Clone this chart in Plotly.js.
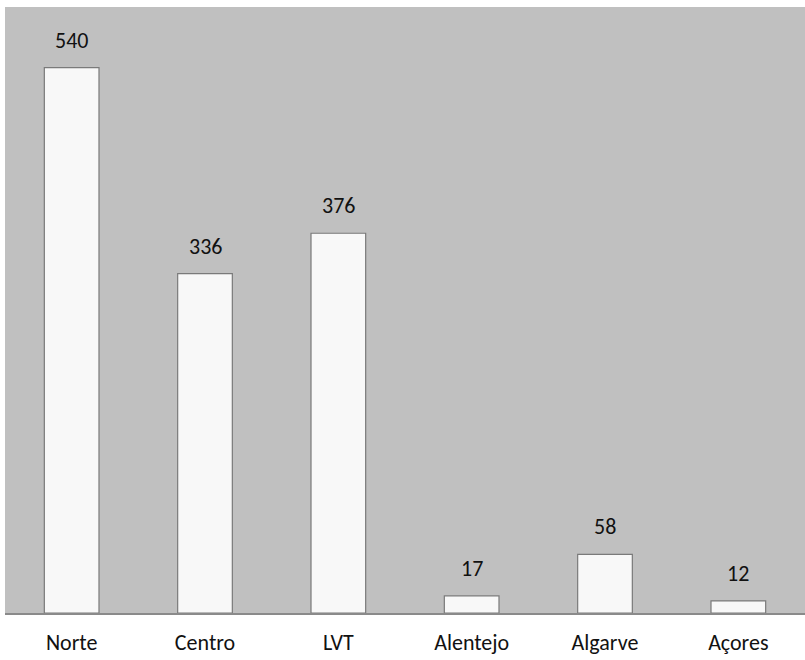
<!DOCTYPE html>
<html>
<head>
<meta charset="utf-8">
<script src="https://cdn.plot.ly/plotly-3.0.1.min.js"></script>
<style>html,body{margin:0;padding:0;background:#fff;}#chart{width:805px;height:660px;}</style>
</head>
<body>
<div id="chart"></div>
<script>
const categories = ["Norte", "Centro", "LVT", "Alentejo", "Algarve", "Açores"];
const values = [540, 336, 376, 17, 58, 12];

const fontFam = "Carlito, Lato, 'Open Sans', sans-serif";

const trace = {
  type: "bar",
  x: categories,
  y: values,
  width: 0.41,
  marker: {color: "#f8f8f8", line: {color: "#7a7a7a", width: 1.2}},
  hoverinfo: "x+y"
};

const annotations = categories.map((c, i) => ({
  x: c, y: values[i], xref: "x", yref: "y",
  text: String(values[i]), showarrow: false,
  yanchor: "bottom", yshift: 12,
  font: {family: fontFam, size: 22, color: "#111"}
}));

const layout = {
  width: 805, height: 660,
  margin: {l: 5, r: 0, t: 7, b: 47},
  paper_bgcolor: "#ffffff",
  plot_bgcolor: "#c0c0c0",
  showlegend: false,
  xaxis: {
    type: "category",
    showgrid: false, zeroline: false,
    showline: true, linecolor: "#8a8a8a", linewidth: 2,
    ticks: "", ticklabelstandoff: 9,
    tickfont: {family: fontFam, size: 22, color: "#111"}
  },
  yaxis: {
    range: [0, 600], showgrid: false, zeroline: false,
    showticklabels: false, showline: false, ticks: ""
  },
  annotations: annotations
};

Plotly.newPlot("chart", [trace], layout, {displayModeBar: false, staticPlot: true});
</script>
</body>
</html>
